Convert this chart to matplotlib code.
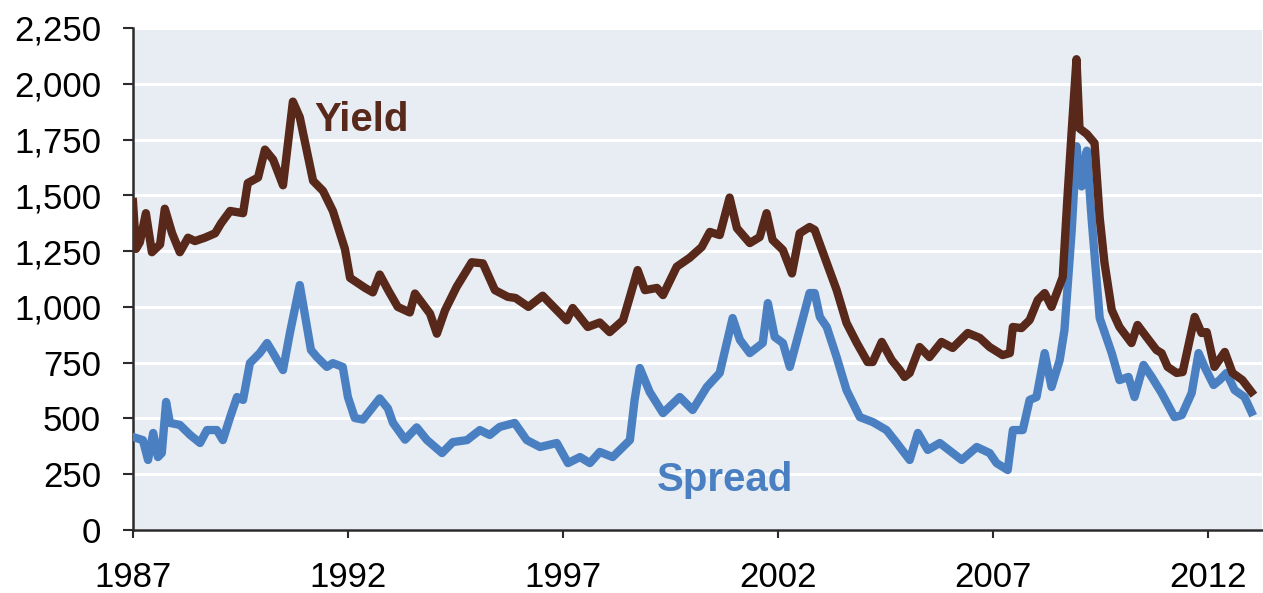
import matplotlib.pyplot as plt

# High-yield index: yield and spread over Treasuries, basis points
yield_years = [
    1987.00, 1987.07, 1987.16, 1987.30, 1987.44, 1987.63, 1987.74, 1987.91,
    1988.09, 1988.28, 1988.44, 1988.67, 1988.91, 1989.05, 1989.26, 1989.56,
    1989.67, 1989.91, 1990.07, 1990.26, 1990.49, 1990.72, 1990.88, 1991.19,
    1991.42, 1991.65, 1991.93, 1992.05, 1992.40, 1992.58, 1992.74, 1992.95,
    1993.16, 1993.44, 1993.56, 1993.91, 1994.07, 1994.26, 1994.53, 1994.88,
    1995.14, 1995.42, 1995.72, 1995.90, 1996.20, 1996.53, 1997.09, 1997.23,
    1997.58, 1997.86, 1998.09, 1998.40, 1998.56, 1998.74, 1998.91, 1999.19,
    1999.33, 1999.65, 1999.95, 2000.23, 2000.42, 2000.65, 2000.88, 2001.05,
    2001.35, 2001.58, 2001.74, 2001.88, 2002.12, 2002.33, 2002.51, 2002.74,
    2002.86, 2003.14, 2003.37, 2003.60, 2003.84, 2004.09, 2004.21, 2004.42,
    2004.65, 2004.84, 2004.95, 2005.07, 2005.30, 2005.53, 2005.81, 2006.07,
    2006.42, 2006.70, 2006.93, 2007.23, 2007.40, 2007.47, 2007.67, 2007.86,
    2008.05, 2008.21, 2008.37, 2008.49, 2008.63, 2008.74, 2008.84, 2008.95,
    2009.02, 2009.19, 2009.37, 2009.49, 2009.60, 2009.77, 2009.95, 2010.23,
    2010.37, 2010.58, 2010.81, 2010.93, 2011.07, 2011.28, 2011.42, 2011.70,
    2011.86, 2011.98, 2012.16, 2012.40, 2012.58, 2012.81, 2013.02,
]
yield_bp = [
    1470, 1260, 1290, 1420, 1245, 1280, 1440, 1330,
    1245, 1310, 1295, 1310, 1330, 1375, 1430, 1420,
    1555, 1580, 1705, 1660, 1545, 1920, 1850, 1565,
    1520, 1430, 1260, 1130, 1085, 1065, 1145, 1070,
    1000, 975, 1060, 970, 880, 985, 1090, 1200,
    1195, 1075, 1045, 1040, 1000, 1050, 940, 995,
    910, 930, 887, 940, 1045, 1165, 1075, 1085,
    1053, 1180, 1220, 1268, 1336, 1322, 1490, 1353,
    1286, 1313, 1420, 1300, 1255, 1150, 1330, 1358,
    1345, 1197, 1076, 928, 838, 753, 753, 843,
    762, 717, 686, 704, 820, 775, 843, 816,
    883, 861, 820, 784, 793, 910, 905, 941,
    1031, 1062, 1000, 1062, 1134, 1492, 1793, 2110,
    1800, 1775, 1734, 1400, 1200, 986, 910, 838,
    919, 865, 807, 793, 731, 704, 708, 955,
    883, 887, 731, 798, 704, 672, 619,
]

spread_years = [
    1987.00, 1987.23, 1987.35, 1987.47, 1987.58, 1987.67, 1987.77, 1987.86,
    1988.09, 1988.33, 1988.56, 1988.72, 1988.95, 1989.09, 1989.26, 1989.42,
    1989.56, 1989.72, 1989.95, 1990.12, 1990.26, 1990.49, 1990.65, 1990.88,
    1991.14, 1991.28, 1991.51, 1991.65, 1991.88, 1992.00, 1992.16, 1992.35,
    1992.74, 1992.93, 1993.05, 1993.33, 1993.60, 1993.84, 1994.19, 1994.44,
    1994.77, 1995.07, 1995.30, 1995.53, 1995.88, 1996.16, 1996.47, 1996.86,
    1997.12, 1997.40, 1997.63, 1997.86, 1998.16, 1998.56, 1998.67, 1998.79,
    1999.02, 1999.33, 1999.72, 2000.02, 2000.35, 2000.65, 2000.95, 2001.12,
    2001.35, 2001.65, 2001.77, 2001.93, 2002.12, 2002.28, 2002.51, 2002.74,
    2002.86, 2002.98, 2003.14, 2003.37, 2003.60, 2003.91, 2004.21, 2004.53,
    2004.77, 2004.84, 2005.07, 2005.26, 2005.49, 2005.77, 2006.28, 2006.63,
    2006.93, 2007.09, 2007.35, 2007.47, 2007.70, 2007.86, 2008.02, 2008.21,
    2008.37, 2008.56, 2008.67, 2008.84, 2008.95, 2009.07, 2009.19, 2009.30,
    2009.49, 2009.77, 2009.95, 2010.16, 2010.30, 2010.51, 2010.70, 2010.93,
    2011.23, 2011.40, 2011.63, 2011.79, 2011.93, 2012.14, 2012.28, 2012.44,
    2012.63, 2012.86, 2013.02,
]
spread_bp = [
    417, 403, 314, 435, 327, 345, 574, 480,
    471, 426, 390, 448, 448, 403, 506, 596,
    583, 748, 793, 838, 793, 717, 883, 1098,
    807, 775, 731, 748, 731, 596, 502, 495,
    590, 545, 480, 405, 460, 403, 345, 394,
    403, 448, 426, 462, 480, 403, 372, 390,
    300, 327, 300, 350, 327, 403, 583, 726,
    619, 524, 596, 538, 641, 704, 950, 852,
    793, 838, 1017, 865, 838, 731, 896, 1062,
    1062, 955, 910, 775, 627, 506, 484, 448,
    390, 372, 314, 435, 359, 390, 314, 372,
    345, 300, 269, 448, 448, 583, 596, 793,
    641, 762, 896, 1345, 1720, 1540, 1700, 1400,
    950, 793, 672, 686, 596, 740, 686, 614,
    506, 515, 614, 793, 731, 650, 672, 704,
    627, 596, 529,
]

x_ticks = [1987, 1992, 1997, 2002, 2007, 2012]
y_ticks = [0, 250, 500, 750, 1000, 1250, 1500, 1750, 2000, 2250]

BROWN = "#58281a"
BLUE = "#4a80c2"


def plot_yield_spread():
    plt.rcParams["font.family"] = ["Liberation Sans", "DejaVu Sans"]
    fig = plt.figure(figsize=(12.63, 5.93), dpi=100)
    ax = fig.add_axes([0.1053, 0.1062, 0.8937, 0.8466])
    ax.set_facecolor("#e8edf3")

    ax.plot(spread_years, spread_bp, color=BLUE, linewidth=6, solid_joinstyle="round", zorder=3)
    ax.plot(yield_years, yield_bp, color=BROWN, linewidth=6, solid_joinstyle="round", zorder=4)

    ax.text(1992.33, 1838, "Yield", color=BROWN, fontsize=29, fontweight="bold",
            ha="center", va="center")
    ax.text(2000.77, 224, "Spread", color=BLUE, fontsize=29, fontweight="bold",
            ha="center", va="center")

    ax.set_xlim(1987, 2013.26)
    ax.set_ylim(0, 2250)
    ax.set_xticks(x_ticks)
    ax.set_yticks(y_ticks)
    ax.set_yticklabels([f"{v:,}" for v in y_ticks])

    ax.grid(axis="y", color="white", linewidth=2.2)
    ax.set_axisbelow(True)
    for side in ("top", "right"):
        ax.spines[side].set_visible(False)
    for side in ("left", "bottom"):
        ax.spines[side].set_color("#2b2b2b")
        ax.spines[side].set_linewidth(1.8)

    ax.tick_params(axis="y", length=7, width=1.5, color="#2b2b2b", pad=16, labelsize=25)
    ax.tick_params(axis="x", length=6, width=1.5, color="#2b2b2b", pad=16, labelsize=25)

    fig.savefig("out.png", dpi=100)


if __name__ == "__main__":
    plot_yield_spread()
